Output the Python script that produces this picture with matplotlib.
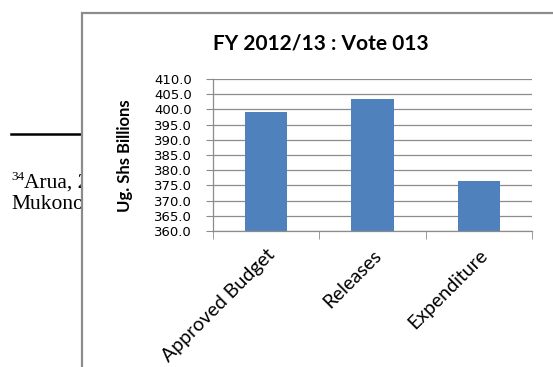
import matplotlib.pyplot as plt
from matplotlib.patches import Rectangle
from matplotlib.lines import Line2D

# Datos del gráfico
categories = ['Approved Budget', 'Releases', 'Expenditure']
values = [399.0, 403.4, 376.3]
y_ticks = [360.0, 365.0, 370.0, 375.0, 380.0, 385.0, 390.0, 395.0, 400.0, 405.0, 410.0]

W, H = 553, 367
fig = plt.figure(figsize=(W / 100, H / 100), dpi=100)

def fx(px):
    return px / W

def fy(py):
    return 1 - py / H

# Texto del documento que queda detrás del gráfico
fig.add_artist(Line2D([fx(11), fx(82)], [fy(134), fy(134)], color='black', lw=1.8,
                      transform=fig.transFigure, zorder=-3))
fig.text(fx(11), fy(180), '34', family='Liberation Serif', fontsize=9.5,
         va='baseline', zorder=-3)
fig.text(fx(24), fy(188), 'Arua, 2012', family='Liberation Serif', fontsize=15.5,
         va='baseline', zorder=-3)
fig.text(fx(11), fy(209), 'Mukono', family='Liberation Serif', fontsize=15.5,
         va='baseline', zorder=-3)

# Marco del gráfico
fig.add_artist(Rectangle((fx(82), -0.1), 1, fy(13) + 0.1, transform=fig.transFigure,
                         facecolor='white', edgecolor='#8c8c8c', lw=1.6, zorder=-2))

ax = fig.add_axes([fx(213), fy(231), fx(532) - fx(213), fy(79) - fy(231)])
ax.set_facecolor('none')

x = range(len(categories))
ax.bar(x, values, width=0.4, color='#4F81BD', zorder=2)

ax.set_ylim(360, 410)
ax.set_xlim(-0.5, 2.5)
ax.set_yticks(y_ticks)
ax.set_yticklabels([f'{v:.1f}' for v in y_ticks], family='DejaVu Sans', fontsize=9.5)
ax.yaxis.grid(True, color='#8c8c8c', lw=0.9, zorder=0)

ax.set_xticks(list(x))
ax.set_xticklabels(categories, rotation=45, ha='right', rotation_mode='anchor',
                   family='Lato', fontsize=14)
ax.set_xticks([-0.5, 0.5, 1.5, 2.5], minor=True)
ax.tick_params(axis='x', which='major', length=0, pad=11)
ax.tick_params(axis='x', which='minor', length=6, color='#8c8c8c', direction='out')
ax.tick_params(axis='y', length=5, color='#8c8c8c', pad=10)

for s in ['top', 'right']:
    ax.spines[s].set_visible(False)
for s in ['left', 'bottom']:
    ax.spines[s].set_color('#8c8c8c')
    ax.spines[s].set_linewidth(0.9)

fig.text(fx(321), fy(43), 'FY 2012/13 : Vote 013', family='Lato', fontweight='bold',
         fontsize=15, ha='center', va='center')
fig.text(fx(125), fy(156), 'Ug. Shs Billions', family='Lato', fontweight='bold',
         fontsize=12, rotation=90, ha='center', va='center')

fig.savefig('out.png', dpi=100)
